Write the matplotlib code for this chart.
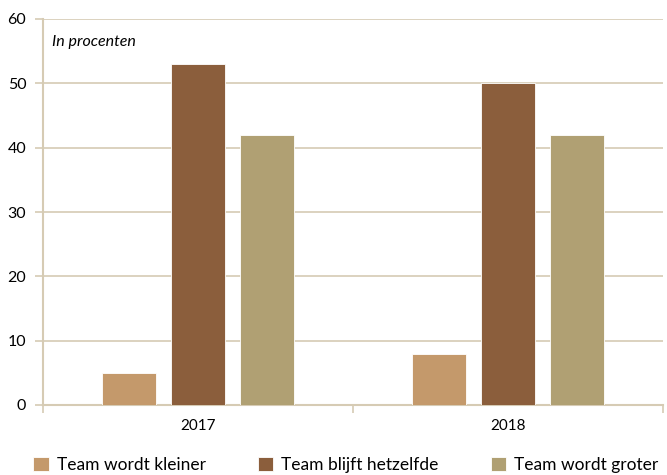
import matplotlib
matplotlib.use("Agg")
import matplotlib.pyplot as plt
import numpy as np

plt.rcParams['font.family'] = ['Lato', 'DejaVu Sans']

years = ['2017', '2018']
series = ['Team wordt kleiner', 'Team blijft hetzelfde', 'Team wordt groter']
kleiner = [5, 8]
hetzelfde = [53, 50]
groter = [42, 42]
colors = ['#c4996b', '#8b5e3c', '#b0a073']
grid_col = '#d6cbb4'

fig = plt.figure(figsize=(6.67, 4.75), dpi=100)
ax = fig.add_axes([43/667, 70/475, 620/667, 386/475])

x = np.arange(len(years))
w = 0.174
off = 0.222
for i, (vals, c, lab) in enumerate(zip([kleiner, hetzelfde, groter], colors, series)):
    ax.bar(x + (i - 1) * off, vals, w, color=c, label=lab, edgecolor='white', linewidth=0.6, zorder=3)

ax.set_xlim(-0.5, 1.5)
ax.set_ylim(0, 60)
ax.set_yticks(range(0, 61, 10))
ax.yaxis.grid(True, color=grid_col, linewidth=1.2, zorder=0)
ax.set_xticks(x)
ax.set_xticklabels(years, fontsize=11)
ax.set_xticks([-0.5, 0.5, 1.5], minor=True)
ax.tick_params(axis='x', which='major', length=0, pad=10)
ax.tick_params(axis='x', which='minor', length=6, color=grid_col, width=1.2)
ax.tick_params(axis='y', length=6, color=grid_col, width=1.2, labelsize=11.5, pad=6)

for s in ['top', 'right']:
    ax.spines[s].set_visible(False)
for s in ['left', 'bottom']:
    ax.spines[s].set_color(grid_col)
    ax.spines[s].set_linewidth(1.5)

ax.text(0.015, 0.94, 'In procenten', transform=ax.transAxes, fontsize=11.5,
        style='italic', va='center', ha='left')

fig.legend(loc='center left', bbox_to_anchor=(0.05, 10/475), ncol=3, frameon=False,
           fontsize=12.5, handlelength=0.9, handleheight=0.9, handletextpad=0.45,
           columnspacing=3.0, borderaxespad=0, borderpad=0)

fig.savefig('out.png', dpi=100)
